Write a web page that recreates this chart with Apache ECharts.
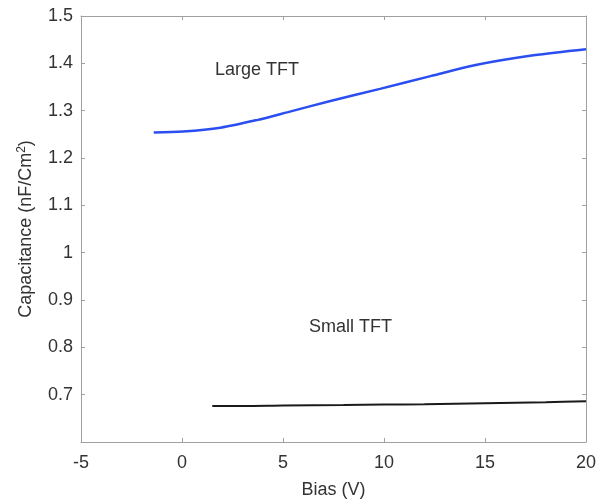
<!DOCTYPE html>
<html><head><meta charset="utf-8">
<script src="https://cdn.jsdelivr.net/npm/echarts@6/dist/echarts.min.js"></script>
<style>html,body{margin:0;padding:0;background:#fff}#c{width:599px;height:504px}</style>
</head><body><div id="c"></div>
<script>
const largeX = [-1.4, 0.05, 1.9, 3.7, 5.25, 7.3, 9.8, 12.3, 14.6, 17.4, 20];
const largeY = [1.254, 1.256, 1.264, 1.280, 1.297, 1.320, 1.346, 1.373, 1.397, 1.417, 1.430];
const smallX = [1.5, 3, 5, 8, 10, 12, 15, 18, 20];
const smallY = [0.676, 0.676, 0.677, 0.678, 0.679, 0.680, 0.682, 0.684, 0.686];
const xTicks = [-5, 0, 5, 10, 15, 20];
const yTicks = [0.7, 0.8, 0.9, 1, 1.1, 1.2, 1.3, 1.4, 1.5];

const font = '"Liberation Sans", Arial, Helvetica, sans-serif';
const axisColor = '#a0a0a0';
const txt = '#333';
const fs = 18;
const chart = echarts.init(document.getElementById('c'));
const baseAxis = {
  axisLine: {show: true, onZero: false, lineStyle: {color: axisColor, width: 1}},
  axisTick: {show: true, inside: true, length: 4, lineStyle: {color: axisColor}},
  splitLine: {show: false}
};
chart.setOption({
  animation: false,
  grid: {left: 81, right: 13, top: 16, bottom: 60},
  xAxis: [
    Object.assign({}, baseAxis, {type: 'value', min: -5, max: 20, interval: 5,
      axisLabel: {color: txt, fontSize: fs, fontFamily: font, margin: 12,
        formatter: v => xTicks.includes(v) ? String(v) : ''},
      name: 'Bias (V)', nameLocation: 'middle', nameGap: 39,
      nameTextStyle: {color: txt, fontSize: fs, fontFamily: font}}),
    Object.assign({}, baseAxis, {type: 'value', position: 'top', min: -5, max: 20, interval: 5,
      axisLabel: {show: false}})
  ],
  yAxis: [
    Object.assign({}, baseAxis, {type: 'value', min: 0.6, max: 1.5, interval: 0.1,
      axisLabel: {color: txt, fontSize: fs, fontFamily: font, margin: 8, showMinLabel: false,
        formatter: v => { const r = Math.round(v*10)/10; return yTicks.includes(r) ? String(r) : ''; }},
      name: 'Capacitance (nF/Cm{sup|2})', nameLocation: 'middle', nameGap: 44, nameRotate: 90,
      nameTextStyle: {color: txt, fontSize: fs, fontFamily: font,
        rich: {sup: {fontSize: 12, verticalAlign: 'top', padding: [0,0,9,0], color: txt, fontFamily: font}}}}),
    Object.assign({}, baseAxis, {type: 'value', position: 'right', min: 0.6, max: 1.5, interval: 0.1,
      axisLabel: {show: false}})
  ],
  series: [
    {type: 'line', name: 'Large TFT', data: largeX.map((x,i)=>[x, largeY[i]]), smooth: 0.3,
      showSymbol: false, lineStyle: {color: '#2b4ef0', width: 2.5}},
    {type: 'line', name: 'Small TFT', data: smallX.map((x,i)=>[x, smallY[i]]), smooth: 0.3,
      showSymbol: false, lineStyle: {color: '#1a1a1a', width: 2}}
  ],
  graphic: [
    {type: 'text', left: 215, top: 61, style: {text: 'Large TFT', fill: txt, fontSize: fs, fontFamily: font}},
    {type: 'text', left: 309, top: 318, style: {text: 'Small TFT', fill: txt, fontSize: fs, fontFamily: font}}
  ]
});
</script></body></html>
